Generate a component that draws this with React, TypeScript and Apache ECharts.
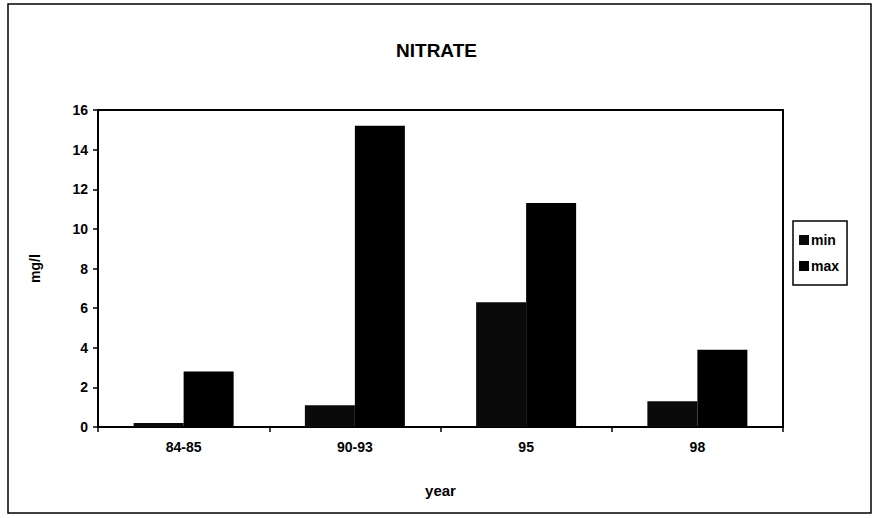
import React, { useEffect, useRef } from "react";
import * as echarts from "echarts";

const categories = ["84-85", "90-93", "95", "98"];
const minValues = [0.2, 1.1, 6.3, 1.3];
const maxValues = [2.8, 15.2, 11.3, 3.9];
const seriesNames = ["min", "max"];
const titleText = "NITRATE";
const yAxisName = "mg/l";
const xAxisName = "year";

const FONT = "'Liberation Sans', Arial, sans-serif";

export default function App() {
  const ref = useRef<HTMLDivElement>(null);
  useEffect(() => {
    document.body.style.margin = "0";
    const chart = echarts.init(ref.current!, null, { renderer: "svg" });
    chart.setOption({
      animation: false,
      backgroundColor: "#fff",
      textStyle: { fontFamily: FONT },
      title: {
        text: titleText,
        left: "center",
        top: 36,
        textStyle: { fontFamily: FONT, fontWeight: "bold", fontSize: 19, color: "#000" },
      },
      grid: {
        left: 98,
        right: 90,
        top: 110,
        bottom: 91,
        show: true,
        borderColor: "#000",
        borderWidth: 2,
        backgroundColor: "transparent",
      },
      legend: {
        orient: "vertical",
        left: 793,
        top: 221,
        data: seriesNames,
        icon: "rect",
        itemWidth: 10,
        itemHeight: 10,
        itemGap: 12,
        padding: [12, 8, 12, 6],
        borderColor: "#000",
        borderWidth: 1.5,
        textStyle: { fontFamily: FONT, fontWeight: "bold", fontSize: 14, color: "#000", padding: [0, 0, 0, -3] },
      },
      xAxis: {
        type: "category",
        data: categories,
        name: xAxisName,
        nameLocation: "middle",
        nameGap: 56,
        nameTextStyle: { fontFamily: FONT, fontWeight: "bold", fontSize: 15, color: "#000" },
        axisLine: { lineStyle: { color: "#000", width: 2 } },
        axisTick: { show: true, length: 5, lineStyle: { color: "#000", width: 1.5 } },
        axisLabel: { fontFamily: FONT, fontWeight: "bold", fontSize: 14, color: "#000", margin: 13 },
      },
      yAxis: {
        type: "value",
        min: 0,
        max: 16,
        interval: 2,
        name: yAxisName,
        nameLocation: "middle",
        nameRotate: 90,
        nameGap: 56,
        nameTextStyle: { fontFamily: FONT, fontWeight: "bold", fontSize: 14, color: "#000" },
        axisLine: { show: true, lineStyle: { color: "#000", width: 2 } },
        axisTick: { show: true, length: 5, lineStyle: { color: "#000", width: 1.5 } },
        axisLabel: { fontFamily: FONT, fontWeight: "bold", fontSize: 14, color: "#000", margin: 10 },
        splitLine: { show: false },
      },
      series: [
        {
          name: seriesNames[0],
          type: "bar",
          data: minValues,
          barWidth: 50,
          barGap: "0%",
          itemStyle: { color: "#0a0a0a" },
        },
        {
          name: seriesNames[1],
          type: "bar",
          data: maxValues,
          barWidth: 50,
          barGap: "0%",
          itemStyle: { color: "#000" },
        },
      ],
      graphic: [
        {
          type: "rect",
          shape: { x: 8, y: 4, width: 863, height: 509 },
          style: { fill: "none", stroke: "#000", lineWidth: 1.5 },
          silent: true,
        },
      ],
    });
    return () => chart.dispose();
  }, []);
  return <div ref={ref} style={{ width: 873, height: 518 }} />;
}
